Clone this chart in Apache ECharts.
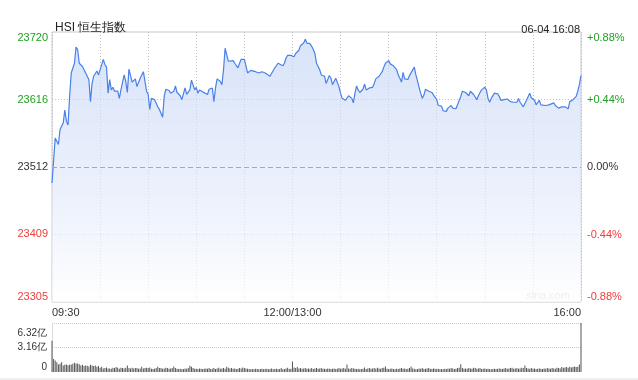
<!DOCTYPE html>
<html><head><meta charset="utf-8">
<script src="https://cdn.jsdelivr.net/npm/echarts@6/dist/echarts.min.js"></script>
<style>html,body{margin:0;padding:0;background:#fff}#c{width:638px;height:380px}</style>
</head><body><div id="c"></div>
<script>
// minute index (0 = 09:30, 150 = 12:00/13:00, 330 = 16:00) and index level
var minutes = [0,2,3,4,5,6,7,8,9,10,11,12,14,15,16,17,18,19,21,22,23,24,25,26,28,29,30,32,33,34,35,36,37,38,39,40,41,42,43,45,46,47,48,49,50,51,52,53,54,55,56,57,58,59,60,61,62,64,65,66,67,68,69,70,71,72,73,74,76,77,78,80,81,82,83,84,85,86,87,89,90,91,92,94,95,97,98,100,101,102,103,105,106,107,108,110,111,113,114,116,117,118,120,121,122,124,125,127,128,129,131,132,133,134,136,137,139,141,142,144,145,146,147,149,150,151,152,153,154,155,157,158,159,160,161,162,163,164,165,166,167,168,170,171,172,173,174,175,176,177,178,179,180,181,183,184,185,186,187,188,189,190,191,192,193,194,195,196,197,198,200,201,202,203,204,206,207,208,209,210,211,212,213,215,216,217,218,219,220,221,222,223,224,226,227,228,229,230,231,232,233,234,235,237,238,239,240,241,242,243,244,245,246,247,248,249,250,252,253,255,256,257,258,260,261,262,263,265,266,267,268,270,271,272,273,274,275,276,278,279,280,281,282,283,284,286,287,288,289,290,291,292,294,295,296,298,299,300,301,302,303,304,305,306,308,309,310,311,313,314,315,316,318,319,320,321,322,323,325,326,327,328,329,330];
var prices = [23488,23557,23552,23547,23570,23575,23580,23600,23583,23577,23621,23657,23672,23697,23693,23672,23672,23667,23657,23652,23647,23613,23641,23652,23660,23654,23657,23678,23670,23666,23626,23647,23631,23635,23629,23631,23629,23618,23631,23654,23644,23627,23663,23663,23643,23643,23648,23636,23635,23649,23652,23659,23657,23629,23624,23601,23618,23616,23613,23605,23601,23595,23589,23621,23632,23629,23630,23626,23629,23637,23627,23622,23616,23619,23634,23624,23622,23631,23646,23631,23635,23626,23631,23628,23627,23624,23632,23634,23613,23634,23648,23644,23639,23662,23695,23675,23676,23676,23672,23665,23672,23678,23678,23668,23657,23661,23662,23659,23658,23657,23659,23658,23657,23657,23652,23653,23665,23672,23670,23668,23672,23680,23684,23684,23685,23682,23687,23688,23692,23699,23703,23709,23703,23706,23702,23698,23693,23687,23672,23667,23662,23654,23652,23641,23644,23653,23649,23639,23639,23649,23647,23636,23626,23618,23615,23618,23622,23621,23618,23611,23626,23637,23631,23627,23630,23632,23640,23631,23632,23634,23635,23641,23648,23647,23652,23659,23666,23672,23673,23676,23671,23672,23668,23662,23654,23649,23643,23658,23648,23647,23647,23653,23652,23666,23654,23645,23635,23626,23618,23623,23632,23631,23629,23627,23623,23622,23616,23607,23605,23606,23599,23600,23598,23603,23605,23607,23603,23602,23603,23621,23629,23626,23627,23622,23629,23631,23624,23616,23622,23627,23631,23635,23631,23618,23612,23618,23617,23626,23625,23621,23615,23616,23616,23618,23617,23613,23612,23612,23612,23612,23618,23612,23605,23610,23615,23626,23619,23621,23615,23608,23610,23615,23608,23610,23607,23608,23608,23610,23611,23607,23608,23603,23605,23607,23605,23602,23602,23613,23616,23617,23621,23629,23639,23653];
// volume per minute, 亿
var volumes = [
4.04,1.68,1.47,1.26,0.97,1.05,1.26,0.84,0.93,0.97,
0.88,0.93,0.97,1.05,1.18,1.09,1.09,1.01,0.84,0.93,
0.76,0.84,0.8,0.72,0.93,0.84,0.76,0.84,0.67,0.76,
0.55,0.67,0.46,0.5,0.59,0.46,0.46,0.42,0.55,0.5,
0.63,0.55,0.42,0.55,0.5,0.46,0.55,0.84,0.5,0.46,
0.55,0.46,0.5,0.5,0.42,0.46,0.67,0.46,0.5,0.55,
0.5,0.59,0.42,0.38,0.42,0.5,0.67,0.5,0.5,0.42,
0.46,0.55,0.5,0.42,0.46,0.5,0.71,0.5,0.42,0.38,
0.42,0.34,0.38,0.46,0.42,0.5,0.8,0.67,0.5,0.42,
0.42,0.38,0.46,0.42,0.38,0.42,0.46,0.42,0.5,0.38,
0.42,0.5,0.38,0.46,0.55,0.42,0.46,0.5,0.42,0.67,
0.55,0.46,0.5,0.42,0.46,0.38,0.42,0.5,0.46,0.59,
0.5,0.46,0.42,0.38,0.34,0.38,0.34,0.42,0.38,0.34,
0.38,0.42,0.34,0.38,0.42,0.34,0.38,0.46,0.34,0.38,
0.42,0.34,0.38,0.5,0.34,0.38,0.46,0.55,0.38,0.42,
1.35,0.59,0.5,0.63,0.46,0.5,0.42,0.46,0.5,0.42,
0.46,0.42,0.5,0.38,0.46,0.5,0.42,0.46,0.5,0.42,
0.42,0.38,0.46,0.42,0.38,0.42,0.46,0.38,0.42,0.5,
0.42,0.46,0.5,0.42,0.97,0.46,0.42,0.5,0.46,0.42,
0.38,0.42,0.34,0.38,0.42,0.59,0.38,0.46,0.5,0.42,
0.46,0.5,0.42,0.55,0.46,0.42,0.5,0.55,0.71,0.42,
0.38,0.42,0.46,0.38,0.34,0.42,0.38,0.46,0.5,0.42,
0.46,0.38,0.42,0.5,0.71,0.46,0.42,0.34,0.38,0.46,
0.42,0.5,0.38,0.42,0.46,0.5,0.42,0.38,0.46,0.42,
0.38,0.42,0.34,0.38,0.34,0.42,0.38,0.46,0.42,0.5,
0.46,0.38,0.42,0.5,0.55,1.01,0.5,0.42,0.46,0.42,
0.5,0.46,0.42,0.55,0.5,0.42,0.46,0.5,0.38,0.42,
0.46,0.38,0.42,0.38,0.34,0.38,0.42,0.38,0.42,0.46,
0.42,0.38,0.46,0.5,0.42,0.46,0.5,0.55,0.42,0.46,
0.5,0.42,0.46,0.55,0.5,0.84,0.5,0.46,0.42,0.5,
0.42,0.46,0.38,0.42,0.46,0.42,0.38,0.46,0.42,0.5,
0.46,0.42,0.5,0.46,0.42,0.55,0.5,0.46,0.63,0.55,
0.59,0.63,0.55,0.67,0.59,0.63,0.71,0.63,0.67,0.97,
6.32];
var priceTicks = [23305, 23409, 23512, 23616, 23720];
var prevClose = 23512;
var timeLabels = {0: '09:30', 150: '12:00/13:00', 330: '16:00'};
var titleText = 'HSI 恒生指数';
var stampText = '06-04 16:08';

var FONT = '"Liberation Sans", Arial, sans-serif';
var GREEN = '#22a022', RED = '#f03c3c', DARK = '#333';

var lineData = minutes.map(function (m, i) { return [m, prices[i]]; });
var volData = volumes.map(function (v, i) { return [i, v]; });

var chart = echarts.init(document.getElementById('c'), null, {renderer: 'canvas'});
chart.setOption({
  animation: false,
  textStyle: {fontFamily: FONT},
  title: [
    {text: titleText, left: 50, top: 17, textStyle: {fontSize: 12, fontWeight: 'normal', color: '#222', fontFamily: FONT}},
    {text: stampText, right: 53, top: 19, textStyle: {fontSize: 11, fontWeight: 'normal', color: '#222', fontFamily: FONT}}
  ],
  grid: [
    {left: 52, right: 57, top: 32, height: 270, show: true, borderColor: '#c8c8c8', borderWidth: 1, containLabel: false},
    {left: 52, right: 57, top: 323, height: 49, containLabel: false}
  ],
  xAxis: [
    {type: 'value', gridIndex: 0, min: 0, max: 330, interval: 30,
      axisLine: {show: false}, axisTick: {show: false},
      splitLine: {show: true, lineStyle: {color: '#c0c0c0', type: [1, 2], width: 1}},
      axisLabel: {fontSize: 11, color: DARK, margin: 5, fontFamily: FONT,
        alignMinLabel: 'left', alignMaxLabel: 'right',
        formatter: function (v) { return timeLabels[v] || ''; }}
    },
    {type: 'value', gridIndex: 1, min: 0, max: 330, interval: 30,
      axisLine: {show: false}, axisTick: {show: false}, splitLine: {show: false}, axisLabel: {show: false}}
  ],
  yAxis: [
    {type: 'value', gridIndex: 0, position: 'left', min: priceTicks[0], max: priceTicks[priceTicks.length - 1],
      axisLine: {show: false}, axisTick: {show: false, customValues: priceTicks}, splitLine: {show: false},
      axisLabel: {customValues: priceTicks, fontSize: 11, margin: 4, fontFamily: FONT,
        verticalAlignMinLabel: 'bottom', verticalAlignMaxLabel: 'top',
        formatter: function (v) { return String(v); },
        color: function (v) { v = Number(v); return v > prevClose ? GREEN : (v < prevClose ? RED : DARK); }}
    },
    {type: 'value', gridIndex: 0, position: 'right', min: -0.88, max: 0.88, interval: 0.44,
      axisLine: {show: false}, axisTick: {show: false},
      splitLine: {show: true, lineStyle: {color: ['transparent', '#c0c0c0', 'transparent', '#c0c0c0', 'transparent'], type: [1, 2], width: 1}},
      axisLabel: {fontSize: 11, margin: 6, fontFamily: FONT,
        verticalAlignMinLabel: 'bottom', verticalAlignMaxLabel: 'top',
        formatter: function (v) { var s = Math.abs(v) < 1e-9 ? '0.00' : v.toFixed(2); return (v > 1e-9 ? '+' : '') + s + '%'; },
        color: function (v) { v = Number(v); return v > 1e-9 ? GREEN : (v < -1e-9 ? RED : DARK); }}
    },
    {type: 'value', gridIndex: 1, min: 0, max: 6.32, interval: 3.16,
      axisLine: {show: true, lineStyle: {color: '#dddddd'}}, axisTick: {show: false},
      splitLine: {show: true, lineStyle: {color: ['transparent', '#c8c8c8', '#c8c8c8'], type: [1, 1], width: 1}},
      axisLabel: {fontSize: 10, color: DARK, margin: 5, fontFamily: FONT,
        verticalAlignMinLabel: 'bottom', verticalAlignMaxLabel: 'top',
        formatter: function (v) { return v === 0 ? '0' : (v > 5 ? '{t|' + v.toFixed(2) + '亿}' : v.toFixed(2) + '亿'); },
        rich: {t: {fontSize: 10, color: DARK, fontFamily: FONT, padding: [5, 0, 0, 0]}}}
    }
  ],
  graphic: [
    {type: 'text', right: 68, top: 290, style: {text: 'sina.com', fontSize: 11, fill: '#cccccc', font: '11px ' + FONT}},
    {type: 'rect', left: 0, top: 378, shape: {width: 638, height: 2}, style: {fill: '#efefef'}}
  ],
  series: [
    {type: 'line', xAxisIndex: 0, yAxisIndex: 0, data: lineData, symbol: 'none', smooth: false,
      lineStyle: {color: '#4a80e8', width: 1.2},
      areaStyle: {color: new echarts.graphic.LinearGradient(0, 0, 0, 1, [
        {offset: 0, color: 'rgba(198,214,246,0.95)'},
        {offset: 0.55, color: 'rgba(222,231,250,0.9)'},
        {offset: 1, color: 'rgba(255,255,255,1)'}])},
      markLine: {silent: true, symbol: 'none', label: {show: false},
        lineStyle: {color: '#aaaaaa', type: [5, 3], width: 1},
        data: [{yAxis: prevClose}]}
    },
    {type: 'bar', xAxisIndex: 1, yAxisIndex: 2, data: volData, barWidth: 1,
      itemStyle: {color: '#555555'}}
  ]
});
</script></body></html>
